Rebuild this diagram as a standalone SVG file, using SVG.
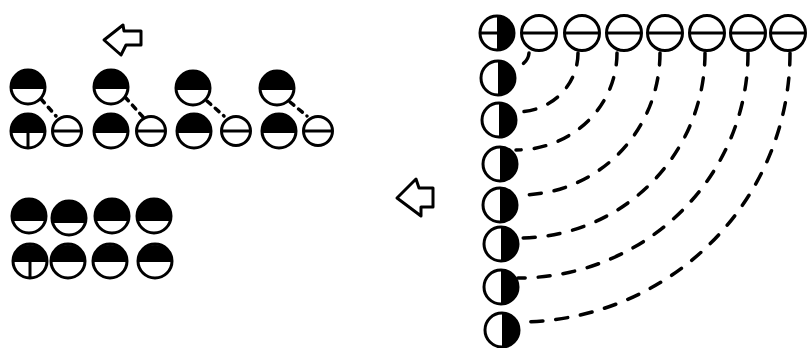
<svg xmlns="http://www.w3.org/2000/svg" xmlns:xlink="http://www.w3.org/1999/xlink" width="807" height="348" viewBox="0 0 807 348">
<style>
.o{fill:#fff;stroke:#000;stroke-width:3}
.l{fill:none;stroke:#000;stroke-width:3}
.d{fill:none;stroke:#000;stroke-width:3.5;stroke-dasharray:12 13;stroke-linecap:round}
.ds{fill:none;stroke:#000;stroke-width:3.5;stroke-dasharray:5 6;stroke-linecap:round}
.ar{fill:#fff;stroke:#000;stroke-width:3;stroke-linejoin:round}
</style>
<defs>
<g id="hd"><circle r="17" class="o"/><path d="M-16.9,2A17,17 0 1 1 16.9,2Z"/></g>
<g id="hd5"><circle r="17" class="o"/><path d="M-16.25,5A17,17 0 1 1 16.25,5Z"/></g>
<g id="hd0"><circle r="17" class="o"/><path d="M-17,1A17,17 0 1 1 17,1Z"/></g>
<g id="ln"><circle r="14.5" class="o"/><line x1="-14.5" y1="0" x2="14.5" y2="0" class="l"/></g>
<g id="lnR"><circle r="17.5" class="o"/><line x1="-17.5" y1="0" x2="17.5" y2="0" class="l"/></g>
<g id="vh"><circle r="17" class="o"/><path d="M0,-17A17,17 0 0 1 0,17Z"/></g>
</defs>
<rect width="807" height="348" fill="#fff"/>

<g id="arrow-top"><polygon class="ar" points="104,40 123,25 124,31 141,31 141,45 126,45 121,55"/></g>
<g id="arrow-mid"><polygon class="ar" points="397,198 416,179 419,188 433,188 433,207 421,207 421,216"/></g>

<g id="connectors">
<path class="ds" d="M41,99L56,116"/>
<path class="ds" d="M125,97L143,117"/>
<path class="ds" d="M207,101L224,116"/>
<path class="ds" d="M290,102L307,116"/>
<path class="d" d="M529,53A16,15 0 0 1 513,67"/>
<path class="d" d="M578,53A61,59 0 0 1 517,112"/>
<path class="d" d="M617,53A101,97 0 0 1 516,150"/>
<path class="d" d="M660,53A140,142 0 0 1 520,195"/>
<path class="d" d="M705,53A186,185 0 0 1 519,238"/>
<path class="d" d="M748,53A230,225 0 0 1 518,278"/>
<path class="d" d="M790,53A271,269 0 0 1 519,322"/>
</g>

<g id="h1"><use xlink:href="#hd" x="28" y="87"/></g>
<g id="h2"><use xlink:href="#hd" x="111" y="87"/></g>
<g id="h3"><use xlink:href="#hd" x="193" y="88"/></g>
<g id="h4"><use xlink:href="#hd" x="277" y="88"/></g>

<g id="b1"><use xlink:href="#hd" x="28" y="131"/><line x1="28" y1="133" x2="28" y2="148" class="l"/></g>
<g id="b2"><use xlink:href="#ln" x="67" y="131"/></g>
<g id="b3"><use xlink:href="#hd" x="111" y="131"/></g>
<g id="b4"><use xlink:href="#ln" x="151" y="131"/></g>
<g id="b5"><use xlink:href="#hd" x="194" y="131"/></g>
<g id="b6"><use xlink:href="#ln" x="236" y="131"/></g>
<g id="b7"><use xlink:href="#hd" x="279" y="131"/></g>
<g id="b8"><use xlink:href="#ln" x="318" y="131"/></g>

<g id="c1"><use xlink:href="#hd5" x="29" y="216"/></g>
<g id="c2"><use xlink:href="#hd5" x="69" y="218"/></g>
<g id="c3"><use xlink:href="#hd5" x="112" y="216"/></g>
<g id="c4"><use xlink:href="#hd5" x="154" y="216"/></g>
<g id="d1"><use xlink:href="#hd0" x="30" y="261"/><line x1="30" y1="262" x2="30" y2="277" class="l"/></g>
<g id="d2"><use xlink:href="#hd0" x="68" y="261"/></g>
<g id="d3"><use xlink:href="#hd0" x="110" y="261"/></g>
<g id="d4"><use xlink:href="#hd0" x="155" y="261"/></g>

<g id="r0"><use xlink:href="#vh" x="497" y="33"/><line x1="481" y1="33" x2="497" y2="33" class="l"/></g>
<g id="t2"><use xlink:href="#lnR" x="539" y="33"/></g>
<g id="t3"><use xlink:href="#lnR" x="582" y="33"/></g>
<g id="t4"><use xlink:href="#lnR" x="624" y="33"/></g>
<g id="t5"><use xlink:href="#lnR" x="665" y="33"/></g>
<g id="t6"><use xlink:href="#lnR" x="707" y="33"/></g>
<g id="t7"><use xlink:href="#lnR" x="748" y="33"/></g>
<g id="t8"><use xlink:href="#lnR" x="788" y="33"/></g>

<g id="v2"><use xlink:href="#vh" x="498" y="78"/></g>
<g id="v3"><use xlink:href="#vh" x="499" y="120"/></g>
<g id="v4"><use xlink:href="#vh" x="500" y="164"/></g>
<g id="v5"><use xlink:href="#vh" x="500" y="205"/></g>
<g id="v6"><use xlink:href="#vh" x="501" y="244"/></g>
<g id="v7"><use xlink:href="#vh" x="501" y="287"/></g>
<g id="v8"><use xlink:href="#vh" x="502" y="330"/></g>
</svg>
